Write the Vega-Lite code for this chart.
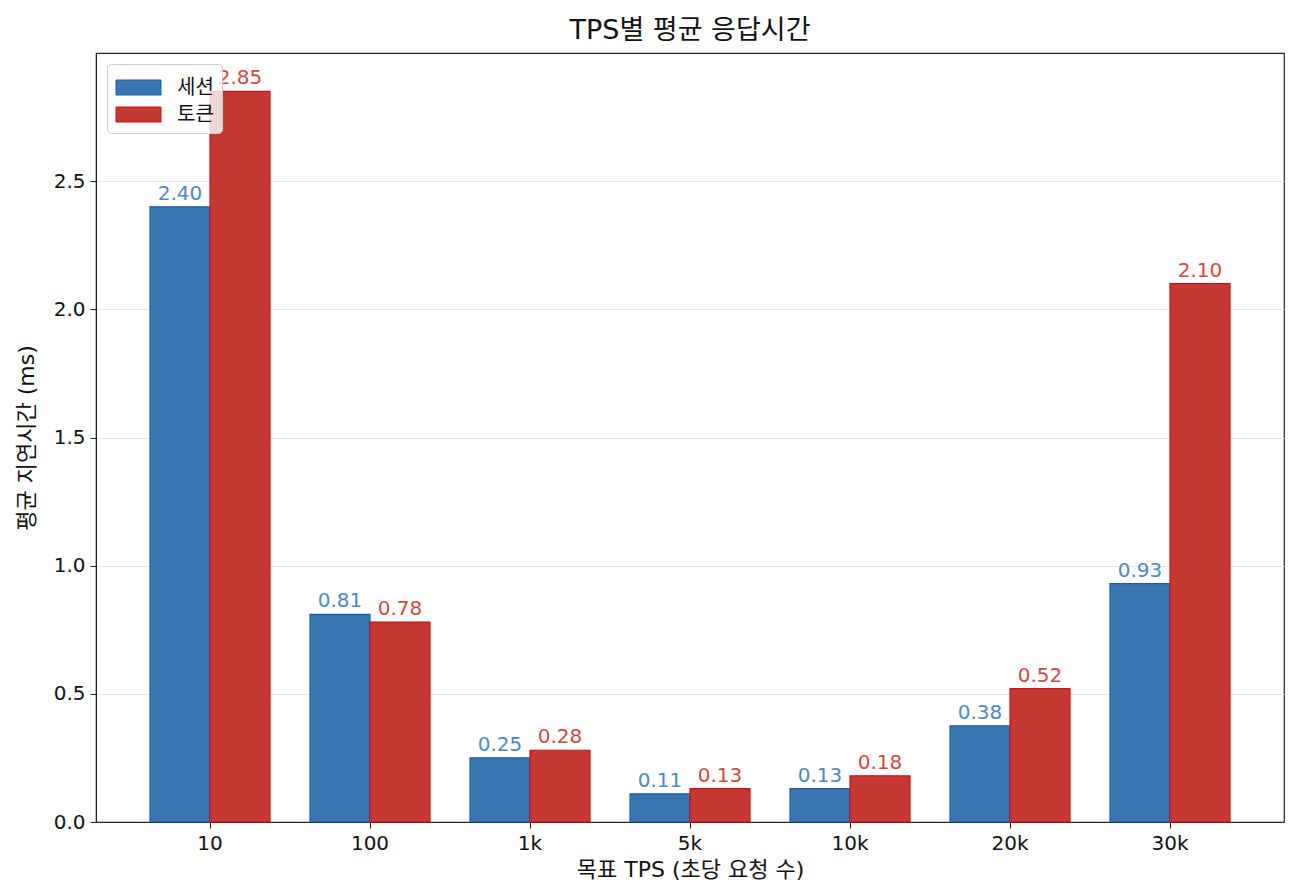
{
  "$schema": "https://vega.github.io/schema/vega-lite/v6.json",
  "autosize": "none",
  "padding": {"left": 96, "top": 53, "right": 16, "bottom": 74},
  "width": 1188,
  "height": 769,
  "background": "white",
  "title": {
    "text": "TPS별 평균 응답시간",
    "anchor": "middle",
    "fontSize": 27,
    "fontWeight": "normal",
    "font": "DejaVu Sans, Noto Sans CJK KR",
    "color": "#111",
    "offset": 8
  },
  "config": {
    "font": "DejaVu Sans, Noto Sans CJK KR",
    "view": {"stroke": "#222", "strokeWidth": 1.2},
    "axis": {
      "labelFont": "DejaVu Sans, Noto Sans CJK KR",
      "titleFont": "DejaVu Sans, Noto Sans CJK KR",
      "labelFontSize": 20,
      "titleFontSize": 22,
      "titleFontWeight": "normal",
      "labelColor": "#111",
      "titleColor": "#111",
      "domainColor": "#222",
      "tickColor": "#222",
      "tickSize": 6
    }
  },
  "data": {
    "values": [
      {"tps": "10", "series": "세션", "ms": 2.40},
      {"tps": "10", "series": "토큰", "ms": 2.85},
      {"tps": "100", "series": "세션", "ms": 0.81},
      {"tps": "100", "series": "토큰", "ms": 0.78},
      {"tps": "1k", "series": "세션", "ms": 0.25},
      {"tps": "1k", "series": "토큰", "ms": 0.28},
      {"tps": "5k", "series": "세션", "ms": 0.11},
      {"tps": "5k", "series": "토큰", "ms": 0.13},
      {"tps": "10k", "series": "세션", "ms": 0.13},
      {"tps": "10k", "series": "토큰", "ms": 0.18},
      {"tps": "20k", "series": "세션", "ms": 0.375},
      {"tps": "20k", "series": "토큰", "ms": 0.52},
      {"tps": "30k", "series": "세션", "ms": 0.93},
      {"tps": "30k", "series": "토큰", "ms": 2.10}
    ]
  },
  "encoding": {
    "x": {
      "field": "tps",
      "type": "nominal",
      "sort": null,
      "title": "목표 TPS (초당 요청 수)",
      "scale": {"paddingInner": 0.25, "paddingOuter": 0.3375},
      "axis": {"labelAngle": 0, "titlePadding": 6, "labelPadding": 5}
    },
    "xOffset": {"field": "series", "type": "nominal", "sort": ["세션", "토큰"]},
    "y": {
      "field": "ms",
      "type": "quantitative",
      "title": "평균 지연시간 (ms)",
      "scale": {"domain": [0, 3.0], "nice": false},
      "axis": {
        "values": [0, 0.5, 1, 1.5, 2, 2.5],
        "format": ".1f",
        "gridColor": "#e6e6e6",
        "gridWidth": 1,
        "labelPadding": 5,
        "titlePadding": 15
      }
    }
  },
  "layer": [
    {
      "mark": {"type": "bar", "strokeWidth": 1.2},
      "encoding": {
        "color": {
          "field": "series",
          "type": "nominal",
          "scale": {"domain": ["세션", "토큰"], "range": ["#3a75af", "#c43a33"]},
          "legend": {
            "title": null,
            "orient": "top-left",
            "offset": 11,
            "labelFontSize": 20,
            "labelColor": "#111",
            "labelFont": "Noto Sans CJK KR",
            "symbolType": "M-1.5,-0.5H1.5V0.5H-1.5Z",
            "symbolSize": 900,
            "symbolOffset": 8,
            "symbolOpacity": 1,
            "symbolStrokeWidth": 1,
            "rowPadding": 1,
            "labelOffset": 23,
            "padding": 8,
            "fillColor": "rgba(255,255,255,0.8)",
            "strokeColor": "#cccccc",
            "cornerRadius": 4
          }
        },
        "stroke": {
          "field": "series",
          "type": "nominal",
          "scale": {"domain": ["세션", "토큰"], "range": ["#1a5ea8", "#cc1111"]},
          "legend": null
        }
      }
    },
    {
      "mark": {"type": "text", "baseline": "bottom", "dy": -3, "fontSize": 20},
      "encoding": {
        "text": {"field": "ms", "type": "quantitative", "format": ".2f"},
        "color": {
          "condition": {"test": "datum.series === '세션'", "value": "#5088c0"},
          "value": "#cf4b45"
        }
      }
    }
  ]
}
